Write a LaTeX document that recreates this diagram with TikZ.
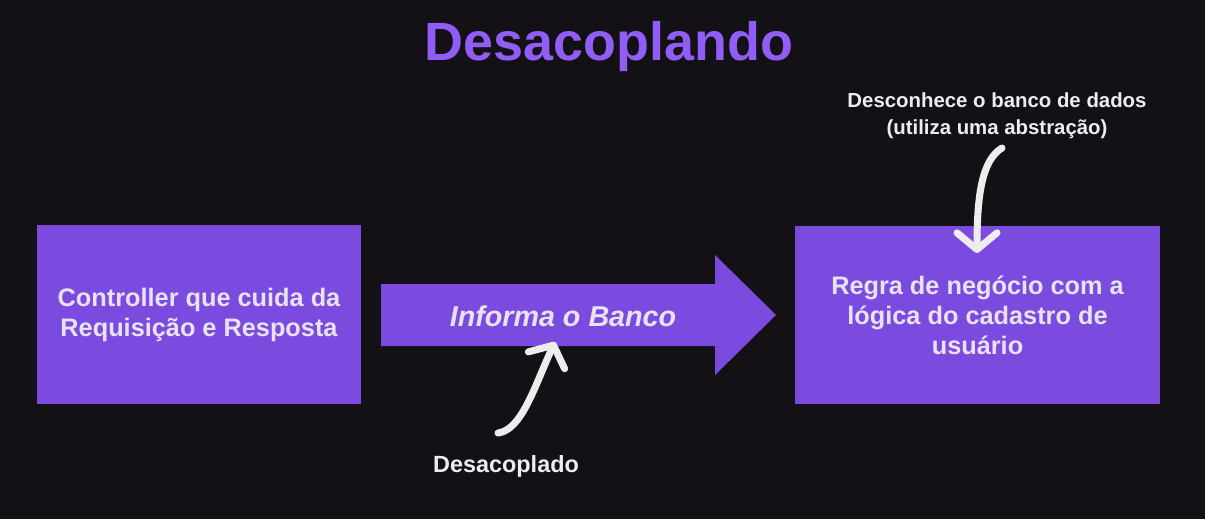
\documentclass[tikz,border=0pt]{standalone}
\usepackage{fontspec}
\setmainfont{Liberation Sans}
\usetikzlibrary{arrows.meta}
\definecolor{bgdark}{HTML}{131116}
\definecolor{boxviolet}{HTML}{7B4BE0}
\definecolor{titleviolet}{HTML}{915DF7}
\definecolor{boxtext}{HTML}{E8E2F2}
\definecolor{notewhite}{HTML}{EDEDED}
\tikzset{
  block/.style={fill=boxviolet,text=boxtext,font=\fontsize{21.6}{25.6}\selectfont\bfseries,align=center,inner sep=0pt},
  note/.style={text=notewhite,font=\fontsize{17.4}{23}\selectfont\bfseries,align=center,inner sep=0pt},
  hand/.style={draw=notewhite,line width=6pt,line cap=round,
    -{Straight Barb[length=0.5cm,width=1.2cm,round]}}
}
\begin{document}
\begin{tikzpicture}[x=0.03cm,y=-0.03cm]
\fill[bgdark] (0,0) rectangle (1205,519);
\useasboundingbox (0,0) rectangle (1205,519);
% titulo
\node[text=titleviolet,font=\fontsize{46}{46}\selectfont\bfseries] (titulo) at (609,47) {Desacoplando};
% caixas
\node[block,minimum width=9.72cm,minimum height=5.37cm] (controller) at (199,314.5)
  {Controller que cuida da\\Requisição e Resposta};
\node[block,minimum width=10.95cm,minimum height=5.34cm] (regra) at (977.5,315)
  {Regra de negócio com a\\lógica do cadastro de\\usuário};
% seta grande
\fill[boxviolet] (381,284) -- (715,284) -- (715,255) -- (776,315) -- (715,375)
  -- (715,346) -- (381,346) -- cycle;
\node[text=boxtext,font=\fontsize{24.5}{24.5}\selectfont\bfseries\itshape] (banco) at (563,316) {Informa o Banco};
% anotacoes
\node[note,font=\fontsize{20}{20}\selectfont\bfseries] (desacoplado) at (506,466) {Desacoplado};
\node[note] (desconhece) at (997,116) {Desconhece o banco de dados\\(utiliza uma abstração)};
\coordinate (pontaA) at (555,342);
\coordinate (pontaB) at (977,253);
\draw[hand] (498,433) .. controls (522,430) and (535,385) .. (pontaA);
\draw[hand] (1002,148) .. controls (982,160) and (977,195) .. (pontaB);
\end{tikzpicture}
\end{document}
